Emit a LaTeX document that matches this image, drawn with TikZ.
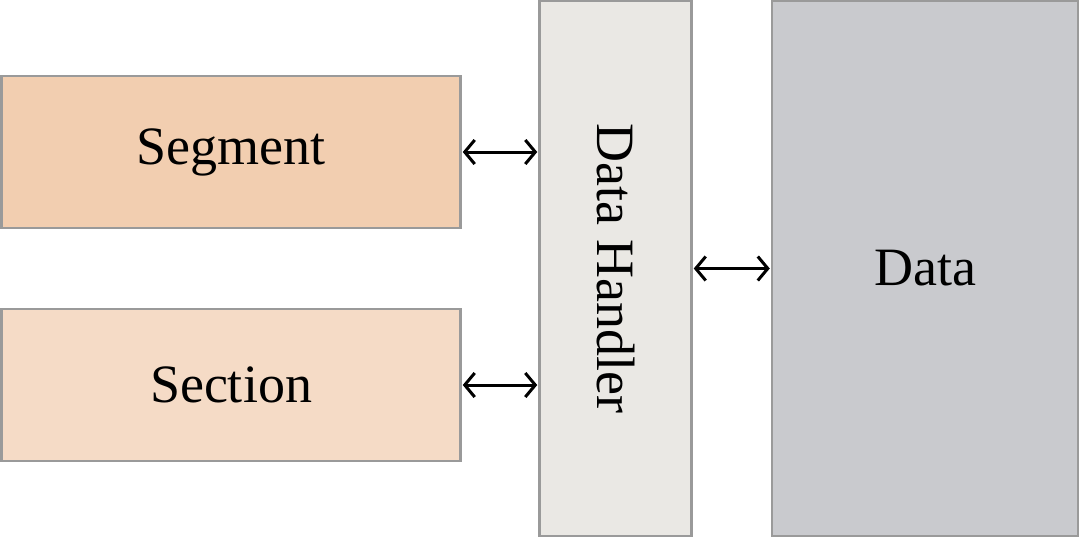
\documentclass[tikz,border=0pt]{standalone}
\usepackage{fontspec}
\setmainfont{Liberation Serif}
\usetikzlibrary{arrows.meta}
\definecolor{segfill}{HTML}{F2CEB0}
\definecolor{secfill}{HTML}{F5DBC6}
\definecolor{dhfill}{HTML}{EAE8E4}
\definecolor{datafill}{HTML}{C9CACE}
\definecolor{edge}{HTML}{9A9A9A}
\begin{document}
\begin{tikzpicture}[x=1pt,y=-1pt,
  lbl/.style={font=\fontsize{54}{64}\selectfont},
  blk/.style={draw=edge,line width=2.5pt,inner sep=0pt,lbl},
  link/.style={line width=3pt,{Straight Barb[length=10pt,width=24pt,line width=3pt]}-{Straight Barb[length=10pt,width=24pt,line width=3pt]},shorten <=1pt,shorten >=1pt}]
\useasboundingbox (0,0) rectangle (1080,539);
\fill[white] (0,0) rectangle (1080,539);
\node[blk,fill=segfill,minimum width=459pt,minimum height=152pt] (seg) at (231,152) {Segment};
\node[blk,fill=secfill,minimum width=459pt,minimum height=152pt] (sec) at (231,385) {Section};
\node[blk,fill=dhfill,minimum width=152pt,minimum height=535pt] (dh) at (615.5,268.5) {};
\node[lbl,rotate=-90] (dhl) at (dh.center) {Data Handler};
\node[blk,fill=datafill,minimum width=306pt,minimum height=535pt] (data) at (925,268.5) {Data};
\draw[link] (seg.east) -- (seg.east -| dh.west);
\draw[link] (sec.east) -- (sec.east -| dh.west);
\draw[link] (dh.east) -- (data.west);
\end{tikzpicture}
\end{document}
